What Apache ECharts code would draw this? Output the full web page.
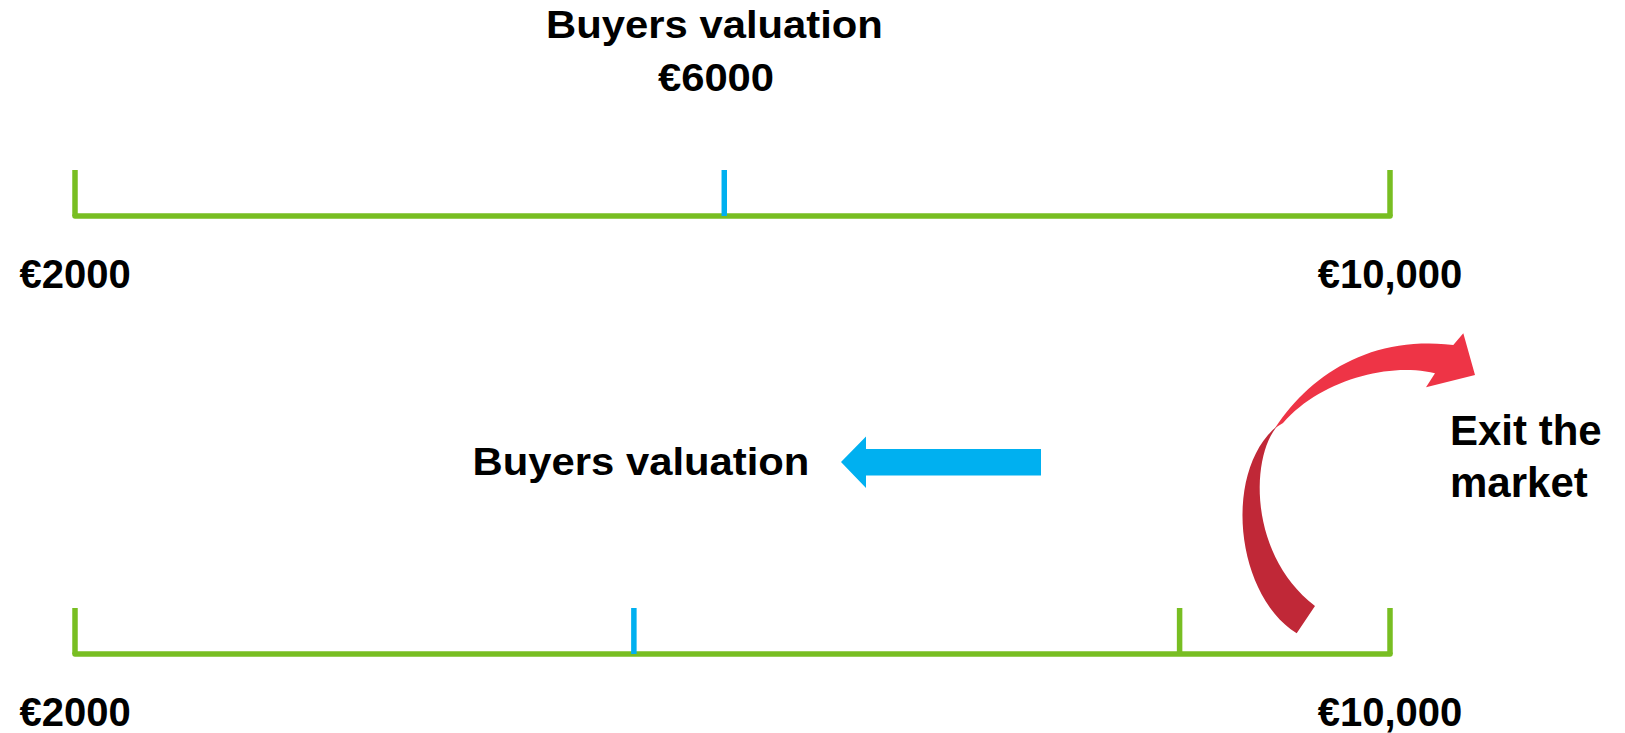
<!DOCTYPE html>
<html>
<head>
<meta charset="utf-8">
<script src="https://cdn.jsdelivr.net/npm/echarts@6/dist/echarts.min.js"></script>
<style>
html,body{margin:0;padding:0;background:#fff;}
#chart{width:1625px;height:733px;}
</style>
</head>
<body>
<div id="chart"></div>
<script>
// ---- data ----
const axisRange = [2000, 10000];
const tickLabelValues = [2000, 10000];
const tickLabelTexts = ['€2000', '€10,000'];
const topRangeEnds = [2000, 10000];
const topValuation = [5950];
const bottomRangeEnds = [2000, 8720, 10000];
const bottomValuation = [5400];
const titleLines = ['Buyers valuation', '€6000'];
const midLabel = 'Buyers valuation';
const exitLines = ['Exit the', 'market'];

const GREEN = '#78BE22';
const BLUE = '#00B0F0';
const FONT = '"Liberation Sans", Arial, sans-serif';

function tickItem(params, api) {
  const x = api.value(0);
  const p0 = api.coord([x, 0]);
  const p1 = api.coord([x, 1]);
  return {
    type: 'line',
    shape: { x1: p0[0], y1: p0[1], x2: p1[0], y2: p1[1] },
    style: { stroke: api.visual('color'), lineWidth: 5.5, lineCap: 'butt' }
  };
}

function xAxisFor(gridIndex) {
  return {
    type: 'value', gridIndex: gridIndex,
    min: axisRange[0], max: axisRange[1],
    axisLine: { show: true, onZero: false, lineStyle: { color: GREEN, width: 5.5 } },
    axisTick: { show: false },
    splitLine: { show: false },
    axisLabel: {
      customValues: tickLabelValues,
      margin: 38,
      fontSize: 40, fontWeight: 'bold', color: '#000', fontFamily: FONT,
      formatter: function (v) {
        const i = tickLabelValues.indexOf(v);
        return i >= 0 ? tickLabelTexts[i] : '';
      }
    }
  };
}
function yAxisFor(gridIndex) {
  return { type: 'value', gridIndex: gridIndex, min: 0, max: 1, show: false };
}
function tickSeries(name, values, color, idx) {
  return {
    name: name, type: 'custom', xAxisIndex: idx, yAxisIndex: idx,
    clip: false, silent: true, z: 5,
    itemStyle: { color: color },
    renderItem: tickItem,
    data: values.map(v => [v])
  };
}

// sample a cubic bezier into points (decorative arrow outline)
function cubic(p0, p1, p2, p3, n) {
  const pts = [];
  for (let i = 0; i <= n; i++) {
    const t = i / n, u = 1 - t;
    const a = u*u*u, b = 3*u*u*t, c = 3*u*t*t, d = t*t*t;
    pts.push([a*p0[0]+b*p1[0]+c*p2[0]+d*p3[0], a*p0[1]+b*p1[1]+c*p2[1]+d*p3[1]]);
  }
  return pts;
}
const redLower = [[1296.7,633.3]]
  .concat(cubic([1315,606],[1248,555],[1250,455],[1278.3,425],30))
  .concat(cubic([1278.3,425],[1222,470],[1235,595],[1296.7,633.3],30));
const redUpper = cubic([1275,428],[1310,375],[1370,335],[1453.3,345],30)
  .concat([[1463.3,333.3],[1475,375],[1426,387.3]])
  .concat(cubic([1435,373.3],[1390,362],[1320,380],[1283,423],30));

const chart = echarts.init(document.getElementById('chart'), null, { renderer: 'svg' });

function txt(text, x, y, fs, align, sx) {
  return {
    type: 'text', x: x, y: y, scaleX: sx || 1, silent: true,
    style: {
      text: text, fill: '#000', fontSize: fs, fontWeight: 'bold', fontFamily: FONT,
      align: align, verticalAlign: 'middle'
    }
  };
}

chart.setOption({
  backgroundColor: '#fff',
  animation: false,
  grid: [
    { left: 75, right: 235, top: 170, height: 46 },
    { left: 75, right: 235, top: 608, height: 46 }
  ],
  xAxis: [xAxisFor(0), xAxisFor(1)],
  yAxis: [yAxisFor(0), yAxisFor(1)],
  series: [
    tickSeries('Range ends (top)', topRangeEnds, GREEN, 0),
    tickSeries('Buyers valuation (top)', topValuation, BLUE, 0),
    tickSeries('Range ends (bottom)', bottomRangeEnds, GREEN, 1),
    tickSeries('Buyers valuation (bottom)', bottomValuation, BLUE, 1)
  ],
  graphic: [
    txt(titleLines[0], 714.5, 25.1, 38, 'center', 1.1),
    txt(titleLines[1], 716, 78, 38, 'center', 1.1),
    txt(midLabel, 641, 461.8, 38, 'center', 1.1),
    txt(exitLines[0], 1450, 430.5, 42, 'left'),
    txt(exitLines[1], 1450, 482.2, 42, 'left'),
    {
      type: 'polygon', silent: true,
      shape: { points: [[841,462],[866,436.5],[866,449],[1041,449],[1041,475.5],[866,475.5],[866,488]] },
      style: { fill: BLUE }
    },
    { type: 'polygon', silent: true, shape: { points: redLower }, style: { fill: '#C02837' } },
    { type: 'polygon', silent: true, shape: { points: redUpper }, style: { fill: '#EE3446' } }
  ]
});
</script>
</body>
</html>
